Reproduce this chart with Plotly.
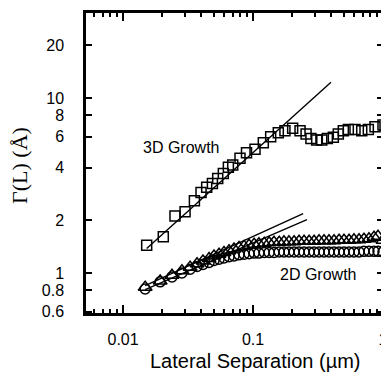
import plotly.graph_objects as go

# ---- data ----
x_3d = [0.0152, 0.0204, 0.0251, 0.0300, 0.0354, 0.0398, 0.0440, 0.0487, 0.0535, 0.0591,
        0.0646, 0.0698, 0.0794, 0.0891, 0.1036, 0.120, 0.1367, 0.1565, 0.176, 0.2018,
        0.230, 0.256, 0.279, 0.309, 0.338, 0.373, 0.415, 0.453, 0.495, 0.541,
        0.609, 0.686, 0.771, 0.868, 1.0]
y_3d = [1.44, 1.61, 2.12, 2.24, 2.59, 2.88, 3.09, 3.25, 3.47, 3.71,
        4.02, 4.14, 4.52, 4.87, 5.09, 5.55, 6.01, 6.34, 6.50, 6.71,
        6.50, 6.23, 5.88, 5.75, 5.75, 5.88, 5.96, 6.23, 6.50, 6.62,
        6.62, 6.50, 6.62, 6.85, 7.01]

x_2d = [0.0148, 0.0193, 0.0238, 0.0284, 0.0328, 0.0371, 0.0412, 0.0459, 0.0501, 0.0548,
        0.0598, 0.0654, 0.0714, 0.0780, 0.0853, 0.0932, 0.102, 0.111, 0.122, 0.133,
        0.145, 0.159, 0.173, 0.189, 0.207, 0.226, 0.247, 0.270, 0.295, 0.322,
        0.352, 0.384, 0.420, 0.459, 0.501, 0.548, 0.598, 0.654, 0.714, 0.780,
        0.853, 0.915, 1.0]
y_tri = [0.83, 0.90, 0.97, 1.03, 1.08, 1.13, 1.17, 1.21, 1.25, 1.28,
         1.31, 1.34, 1.37, 1.40, 1.42, 1.44, 1.46, 1.47, 1.48, 1.49,
         1.50, 1.50, 1.51, 1.51, 1.51, 1.52, 1.52, 1.52, 1.52, 1.53,
         1.53, 1.53, 1.53, 1.54, 1.54, 1.54, 1.55, 1.55, 1.56, 1.57,
         1.60, 1.62, 1.54]
y_circ = [0.81, 0.89, 0.95, 1.00, 1.05, 1.09, 1.12, 1.15, 1.18, 1.20,
          1.22, 1.24, 1.25, 1.27, 1.28, 1.29, 1.30, 1.30, 1.31, 1.31,
          1.31, 1.32, 1.32, 1.32, 1.32, 1.32, 1.32, 1.32, 1.32, 1.32,
          1.32, 1.32, 1.32, 1.32, 1.32, 1.32, 1.32, 1.32, 1.33, 1.33,
          1.33, 1.33, 1.32]

# power-law fits  y = A * x^H over [xmin, xmax]
fit_3d = {"A": 22.8, "H": 0.67, "x": [0.0152, 0.398]}
fit_2d_a = {"A": 3.52, "H": 0.338, "x": [0.0148, 0.243]}
fit_2d_b = {"A": 3.11, "H": 0.321, "x": [0.0148, 0.260]}

y_tickvals = [0.6, 0.8, 1, 2, 4, 6, 8, 10, 20]
y_ticktext = ["0.6", "0.8", "1", "2", "4", "6", "8", "10", "20"]
x_tickvals = [0.01, 0.1, 1]
x_ticktext = ["0.01", "0.1", "1"]
x_minor = [0.006, 0.007, 0.008, 0.009, 0.02, 0.03, 0.04, 0.05, 0.06, 0.07, 0.08, 0.09,
           0.2, 0.3, 0.4, 0.5, 0.6, 0.7, 0.8, 0.9]


def fit_line(f):
    xs = f["x"]
    return xs, [f["A"] * v ** f["H"] for v in xs]


fig = go.Figure()
mk = dict(color="black", width=1.5)
for f in (fit_3d, fit_2d_a, fit_2d_b):
    fx, fy = fit_line(f)
    fig.add_trace(go.Scatter(x=fx, y=fy, mode="lines", line=dict(color="black", width=1.4),
                             showlegend=False, cliponaxis=False))
fig.add_trace(go.Scatter(x=x_3d, y=y_3d, mode="markers", showlegend=False, cliponaxis=False,
                         marker=dict(symbol="square-open", size=10, color="black", line=mk)))
fig.add_trace(go.Scatter(x=x_2d, y=y_circ, mode="markers", showlegend=False, cliponaxis=False,
                         marker=dict(symbol="circle-open", size=10, color="black", line=mk)))
fig.add_trace(go.Scatter(x=x_2d, y=y_tri, mode="markers", showlegend=False, cliponaxis=False,
                         marker=dict(symbol="triangle-up-open", size=12, color="black", line=mk)))

fig.add_annotation(x=-1.5577, y=0.717, xref="x", yref="y", text="3D Growth", showarrow=False,
                   font=dict(family="Liberation Sans, Arial", size=16, color="black"))
fig.add_annotation(x=-0.5, y=-0.011, xref="x", yref="y", text="2D Growth", showarrow=False,
                   font=dict(family="Liberation Sans, Arial", size=16, color="black"))

# the page adds an 8px body margin, so the figure is 8px smaller than the window
W, H = 381, 365
L, R, T, B = 78, 6, 5, 60
pw, ph = W - L - R, H - T - B


def px(xp):
    return (xp - L) / pw


def py(yp):
    return 1 - (yp - T) / ph


fig.add_annotation(x=px(248), y=py(365), xref="paper", yref="paper",
                   xanchor="center", yanchor="bottom", borderpad=0, text="Lateral Separation (µm)",
                   showarrow=False, font=dict(family="Liberation Sans, Arial", size=20, color="black"))
fig.add_annotation(x=px(11), y=py(158), xref="paper", yref="paper",
                   xanchor="center", yanchor="middle", borderpad=0, text="Γ(L) (Å)", textangle=-90,
                   showarrow=False, font=dict(family="Liberation Serif, Times New Roman", size=22, color="black"))

fig.update_layout(
    width=W, height=H, margin=dict(l=L, r=R, t=T, b=B, autoexpand=False),
    paper_bgcolor="white", plot_bgcolor="white",
    font=dict(family="Liberation Sans, Arial", color="black", size=16),
    xaxis=dict(type="log", range=[-2.285, 0.0], showgrid=False, zeroline=False,
               showline=True, linecolor="black", linewidth=2.5, mirror="allticks",
               ticks="inside", ticklen=8, tickwidth=1.5, tickcolor="black",
               tickvals=x_tickvals, ticktext=x_ticktext, ticklabelstandoff=10,
               minor=dict(tickvals=x_minor, ticks="inside", ticklen=4, tickwidth=1.5,
                          tickcolor="black", showgrid=False)),
    yaxis=dict(type="log", range=[-0.2286, 1.486], showgrid=False, zeroline=False,
               showline=True, linecolor="black", linewidth=2.5, mirror="allticks",
               ticks="inside", ticklen=6, tickwidth=1.5, tickcolor="black",
               tickvals=y_tickvals, ticktext=y_ticktext, ticklabelstandoff=16),
)

fig.write_html("out.html")
